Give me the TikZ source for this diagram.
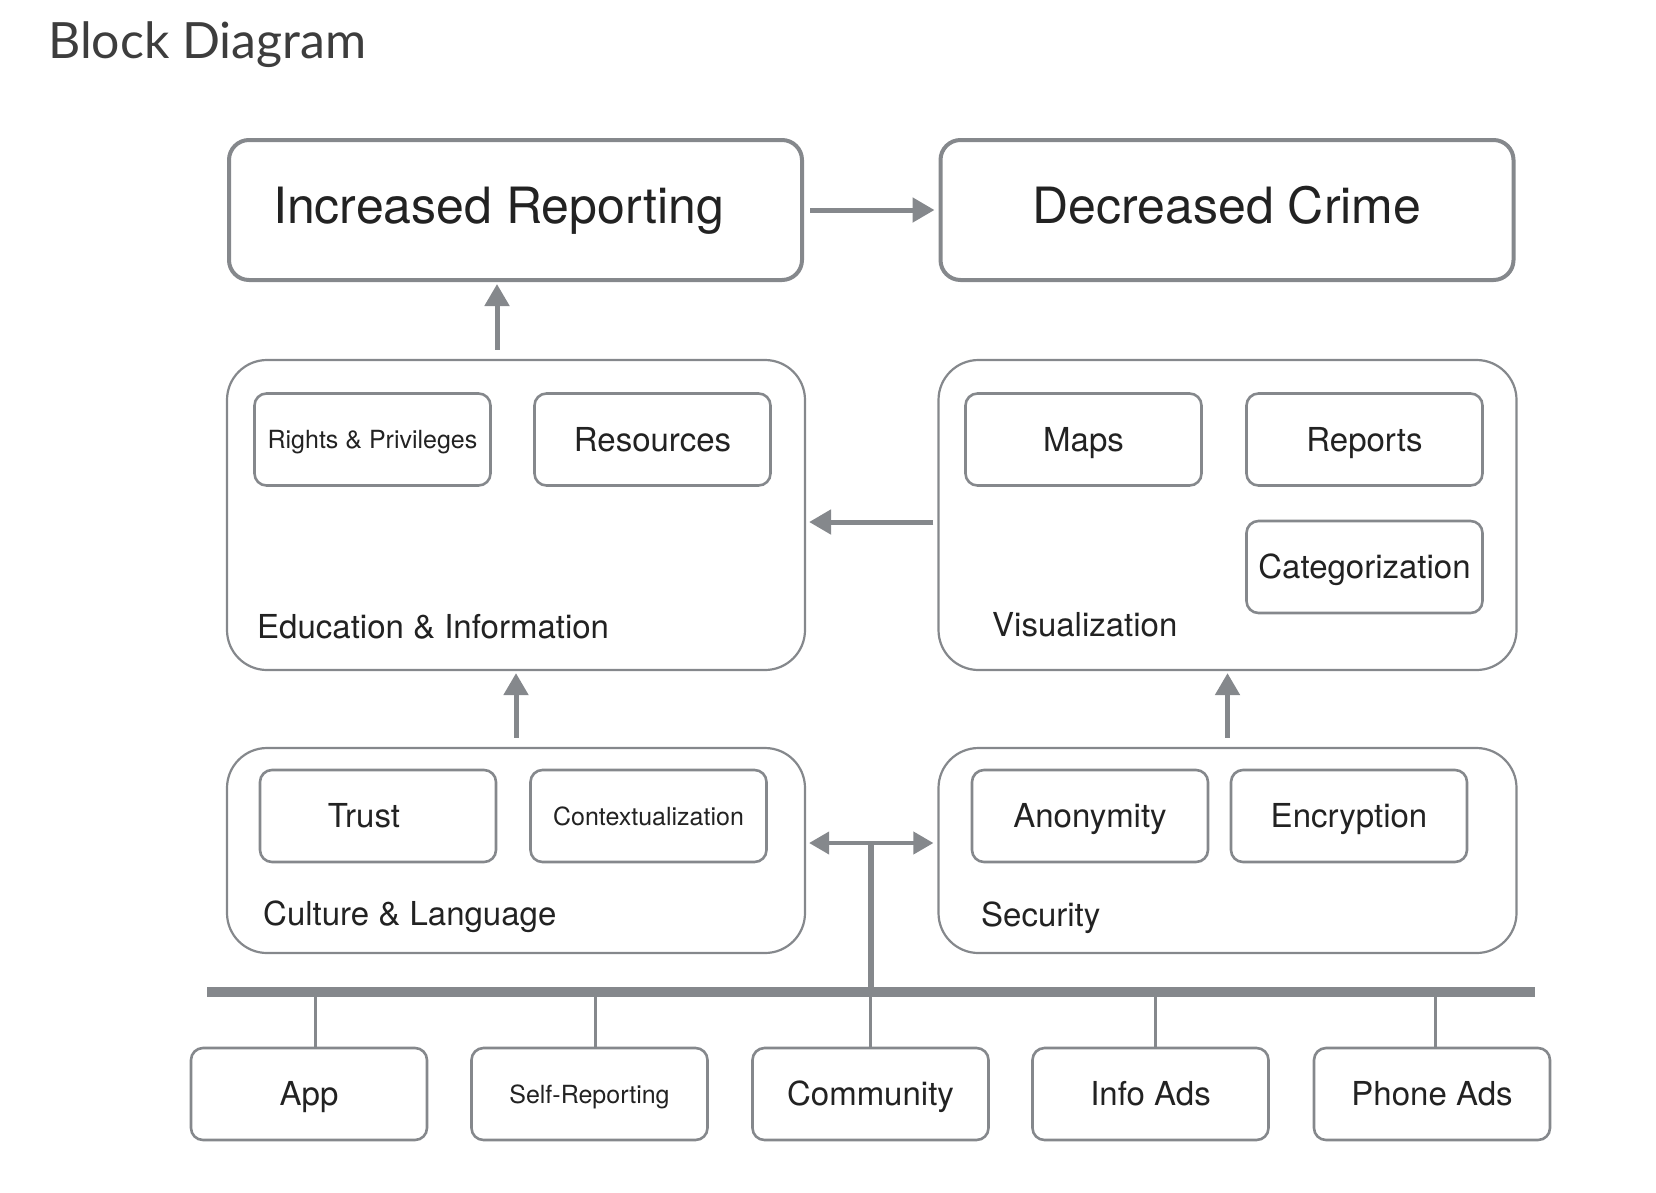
\documentclass[tikz,border=0pt]{standalone}
\usepackage{fontspec}
\setmainfont{TeX Gyre Heros}
\newfontfamily\titlefont{Lato}
\usetikzlibrary{arrows.meta}
\definecolor{linegray}{RGB}{133,136,140}
\definecolor{textdark}{RGB}{34,34,34}
\definecolor{titlegray}{RGB}{61,61,61}

\begin{document}
\begin{tikzpicture}[x=1pt,y=-1pt,
  bigbox/.style={draw=linegray,line width=4pt,rounded corners=20pt,minimum width=573pt,minimum height=140pt,font=\fontsize{50}{60}\selectfont,text=textdark,text height=36pt,text depth=10pt},
  groupbox/.style={draw=linegray,line width=2.2pt,rounded corners=40pt,minimum width=578pt},
  itembox/.style={draw=linegray,line width=2.6pt,rounded corners=12pt,minimum width=236pt,minimum height=92pt,font=\fontsize{33}{40}\selectfont,text=textdark,text height=23.7pt,text depth=0pt},
  smalltext/.style={font=\fontsize{25}{30}\selectfont,text height=18pt},
  grouplabel/.style={anchor=west,font=\fontsize{33}{40}\selectfont,text=textdark,inner sep=0pt},
  flow/.style={draw=linegray,line width=5pt,-{Triangle[length=22pt,width=24pt]}},
  both/.style={draw=linegray,line width=4pt,{Triangle[length=20pt,width=22pt]}-{Triangle[length=20pt,width=22pt]}},
  trunk/.style={draw=linegray,line width=6pt},
  bus/.style={draw=linegray,line width=10pt},
  stub/.style={draw=linegray,line width=3pt}]
\useasboundingbox (0,0) rectangle (1656,1192);

% title
\node[anchor=base west,inner sep=0pt,text=titlegray,font=\titlefont\fontsize{50}{60}\selectfont] (title) at (48,58) {Block Diagram};

% outcomes
\node[bigbox] (ir) at (515.5,210) {Increased Reporting\hspace*{34pt}};
\node[bigbox] (dc) at (1227,210) {Decreased Crime};

% groups
\node[groupbox,minimum height=310pt] (edu) at (516,515) {};
\node[groupbox,minimum height=310pt] (vis) at (1227.5,515) {};
\node[groupbox,minimum height=205pt] (cult) at (516,850.5) {};
\node[groupbox,minimum height=205pt] (sec) at (1227.5,850.5) {};

\node[grouplabel] (edulabel) at (257,627) {Education \& Information};
\node[grouplabel] (vislabel) at (992,625) {Visualization};
\node[grouplabel] (cultlabel) at (263,917) {Culture \& Language};
\node[grouplabel] (seclabel) at (981,918) {Security};

% items
\node[itembox,smalltext] (rights) at (372.5,439.5) {Rights \& Privileges};
\node[itembox] (res) at (652.5,439.5) {Resources};
\node[itembox] (maps) at (1083.5,439.5) {Maps};
\node[itembox] (reports) at (1364.5,439.5) {Reports};
\node[itembox] (cat) at (1364.5,567) {Categorization};
\node[itembox] (trust) at (378,816) {Trust\hspace*{28pt}};
\node[itembox,smalltext] (context) at (648.5,816) {Contextualization};
\node[itembox] (anon) at (1090,816) {Anonymity};
\node[itembox] (enc) at (1349,816) {Encryption};

% channels
\node[itembox] (app) at (309,1094) {App};
\node[itembox,smalltext] (self) at (589.5,1094) {Self-Reporting};
\node[itembox] (comm) at (870.5,1094) {Community};
\node[itembox] (info) at (1150.5,1094) {Info Ads};
\node[itembox] (phone) at (1432,1094) {Phone Ads};

% arrows
\draw[flow,shorten <=6pt,shorten >=4pt] (ir) -- (dc);
\draw[flow,shorten <=9pt,shorten >=2pt] ([xshift=-19pt]edu.north) -- ([xshift=-19pt]edu.north |- ir.south);
\draw[flow,shorten <=4pt,shorten >=3pt] ([yshift=-7pt]vis.west) -- ([yshift=-7pt]edu.east);
\draw[flow,shorten <=9pt,shorten >=2pt] (cult) -- (edu);
\draw[flow,shorten <=9pt,shorten >=2pt] (sec) -- (vis);
\draw[both,shorten <=3pt,shorten >=4pt] ([yshift=7.5pt]cult.east) -- ([yshift=7.5pt]sec.west);

% bus
\coordinate (busL) at (207,992);
\coordinate (busR) at (1535,992);
\coordinate (hub) at (871,843);
\foreach \b/\dx in {app/6,self/6,comm/0,info/5,phone/3}
  \draw[stub] ([xshift=\dx pt]\b.north) -- ([xshift=\dx pt]\b.north |- busL);
\draw[trunk] (hub) -- (hub |- busL);
\draw[bus] (busL) -- (busR);
\end{tikzpicture}
\end{document}
